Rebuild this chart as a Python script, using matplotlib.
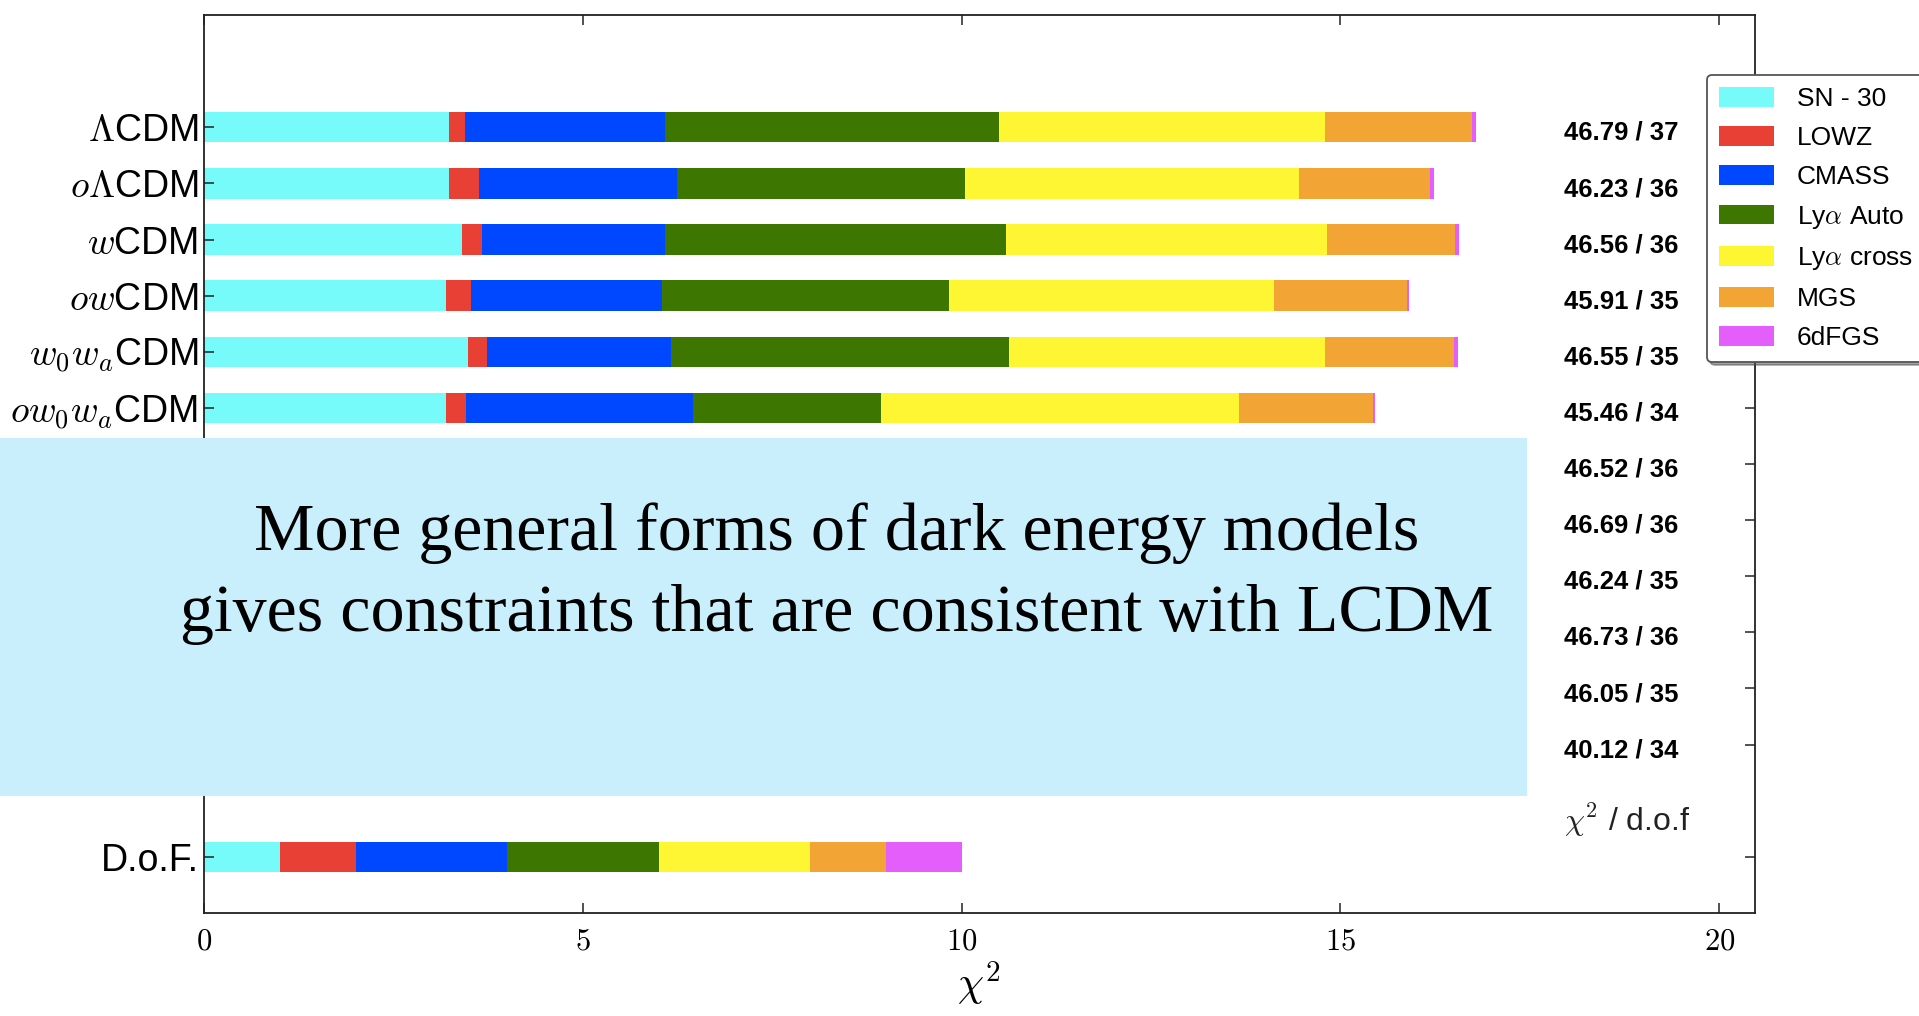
import numpy as np
import matplotlib.pyplot as plt
from matplotlib.patches import Patch, Rectangle

plt.rcParams['font.family'] = ['Liberation Sans', 'DejaVu Sans']
plt.rcParams['mathtext.fontset'] = 'cm'

# Models and data sets
models = [r'$\Lambda$CDM', r'$o\Lambda$CDM', r'$w$CDM', r'$ow$CDM',
          r'$w_0w_a$CDM', r'$ow_0w_a$CDM']
components = ['SN - 30', 'LOWZ', 'CMASS', r'Ly$\alpha$ Auto',
              r'Ly$\alpha$ cross', 'MGS', '6dFGS']
colors = ['#76FAFA', '#E84034', '#0048FF', '#3D7600',
          '#FFF633', '#F2A535', '#E35EFA']

# chi^2 contribution of each data set per model (SN shifted by 30)
sn = [3.23, 3.23, 3.40, 3.20, 3.49, 3.20]
lowz = [0.22, 0.40, 0.27, 0.33, 0.24, 0.26]
cmass = [2.64, 2.61, 2.41, 2.51, 2.44, 2.99]
lya_auto = [4.40, 3.80, 4.50, 3.79, 4.45, 2.48]
lya_cross = [4.31, 4.41, 4.24, 4.29, 4.18, 4.73]
mgs = [1.93, 1.73, 1.69, 1.76, 1.70, 1.77]
sixdf = [0.06, 0.05, 0.05, 0.03, 0.05, 0.03]

# degrees of freedom per data set
dof = [1, 1, 2, 2, 2, 1, 1]

# total chi^2 / dof for every fit
chi2_total = [46.79, 46.23, 46.56, 45.91, 46.55, 45.46,
              46.52, 46.69, 46.24, 46.73, 46.05, 40.12]
dof_total = [37, 36, 36, 35, 35, 34, 36, 36, 35, 36, 35, 34]

n_rows = len(chi2_total)
dof_row = n_rows + 1

fig = plt.figure(figsize=(19.19, 10.16), dpi=100)
ax = fig.add_axes([0.1063, 0.1014, 0.8082, 0.8838])

chi2 = np.array([sn, lowz, cmass, lya_auto, lya_cross, mgs, sixdf])
lefts = np.cumsum(chi2, axis=0) - chi2
ypos = np.arange(len(models))
bar_h = 0.54

for k in range(len(components)):
    ax.barh(ypos, chi2[k], left=lefts[k], height=bar_h,
            color=colors[k], linewidth=0)

dof_left = np.cumsum(dof) - np.array(dof)
for k in range(len(components)):
    ax.barh(dof_row, dof[k], left=dof_left[k], height=bar_h,
            color=colors[k], linewidth=0)

for i in range(n_rows):
    ax.text(17.95, i + 0.1, '%.2f / %d' % (chi2_total[i], dof_total[i]),
            ha='left', va='center', fontsize=18.5, fontweight='bold')
ax.text(17.95, 12.35, r'$\chi^2$ / d.o.f', ha='left', va='center',
        fontsize=23, color='#222222')

ax.set_xlim(0, 20.47)
ax.set_ylim(14, -2)
ax.set_xticks([0, 5, 10, 15, 20])
ax.set_xticklabels([r'$0$', r'$5$', r'$10$', r'$15$', r'$20$'], fontsize=22)
ax.set_xlabel(r'$\chi^2$', fontsize=30, labelpad=2)
ax.set_yticks(list(range(n_rows)) + [dof_row])
ax.set_yticklabels(models + [''] * (n_rows - len(models)) + ['D.o.F.'],
                   fontsize=27)
ax.tick_params(axis='both', direction='in', top=True, right=True,
               length=7, width=1.1, color='#222222')
ax.tick_params(axis='x', pad=10)
ax.tick_params(axis='y', pad=4)
for s in ax.spines.values():
    s.set_linewidth(1.3)
    s.set_color('#222222')

handles = [Patch(facecolor=c, edgecolor='none', label=l)
           for c, l in zip(colors, components)]
leg = ax.legend(handles=handles, loc='upper left',
                bbox_to_anchor=(0.8895, 0.926), bbox_transform=fig.transFigure,
                fontsize=19, frameon=True, fancybox=True, shadow=True,
                handlelength=2.1, handleheight=0.78, labelspacing=0.56,
                borderpad=0.45, handletextpad=0.85, borderaxespad=0)
leg.get_frame().set_edgecolor('#555555')
leg.get_frame().set_linewidth(1.3)

# annotation banner over the middle rows
fig.add_artist(Rectangle((0, 1 - 796 / 1016), 1527 / 1919, 358 / 1016,
                         transform=fig.transFigure, facecolor='#C9EEFC',
                         edgecolor='none', zorder=10))
fig.text(0.436, 0.435,
         'More general forms of dark energy models\n'
         'gives constraints that are consistent with LCDM',
         ha='center', va='center', multialignment='center',
         fontsize=49, family='Liberation Serif', linespacing=1.42, zorder=11)

fig.savefig('out.png', dpi=100)
